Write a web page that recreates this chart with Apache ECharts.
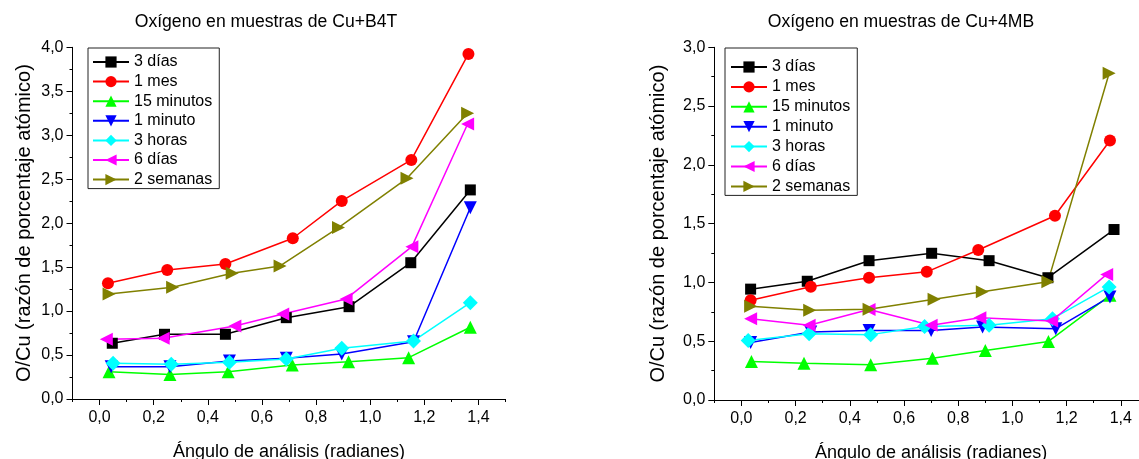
<!DOCTYPE html>
<html>
<head>
<meta charset="utf-8">
<script src="https://cdn.jsdelivr.net/npm/echarts@6/dist/echarts.min.js"></script>
<style>
html,body{margin:0;padding:0;background:#fff;}
#c{width:1139px;height:459px;}
</style>
</head>
<body>
<div id="c"></div>
<script>
// ---------- DATA ----------
var seriesNames = ['3 días', '1 mes', '15 minutos', '1 minuto', '3 horas', '6 días', '2 semanas'];
var titleLeft = 'Oxígeno en muestras de Cu+B4T';
var titleRight = 'Oxígeno en muestras de Cu+4MB';
var xName = 'Ángulo de análisis (radianes)';
var yName = 'O/Cu (razón de porcentaje atómico)';

var xTicks = [0, 0.2, 0.4, 0.6, 0.8, 1.0, 1.2, 1.4];
var xMinorTicks = [-0.1, 0.1, 0.3, 0.5, 0.7, 0.9, 1.1, 1.3, 1.5];
var yTicksLeft = [0, 0.5, 1.0, 1.5, 2.0, 2.5, 3.0, 3.5, 4.0];
var yTicksRight = [0, 0.5, 1.0, 1.5, 2.0, 2.5, 3.0];

// Cu+B4T (left)
var b4t_3dias_x = [0.047, 0.24, 0.465, 0.69, 0.922, 1.15, 1.37];
var b4t_3dias_y = [0.634, 0.736, 0.736, 0.925, 1.05, 1.55, 2.378];
var b4t_1mes_x = [0.031, 0.25, 0.465, 0.714, 0.895, 1.152, 1.363];
var b4t_1mes_y = [1.316, 1.468, 1.536, 1.828, 2.253, 2.719, 3.925];
var b4t_15min_x = [0.035, 0.26, 0.475, 0.712, 0.92, 1.142, 1.37];
var b4t_15min_y = [0.31, 0.28, 0.31, 0.387, 0.424, 0.47, 0.816];
var b4t_1min_x = [0.043, 0.26, 0.48, 0.69, 0.895, 1.16, 1.37];
var b4t_1min_y = [0.367, 0.367, 0.432, 0.463, 0.512, 0.652, 2.176];
var b4t_3horas_x = [0.05, 0.265, 0.48, 0.69, 0.895, 1.16, 1.37];
var b4t_3horas_y = [0.406, 0.395, 0.418, 0.455, 0.577, 0.66, 1.096];
var b4t_6dias_x = [0.025, 0.235, 0.5, 0.677, 0.911, 1.154, 1.36];
var b4t_6dias_y = [0.68, 0.69, 0.83, 0.967, 1.138, 1.733, 3.128];
var b4t_2sem_x = [0.035, 0.27, 0.49, 0.667, 0.883, 1.136, 1.36];
var b4t_2sem_y = [1.195, 1.27, 1.43, 1.513, 1.95, 2.51, 3.25];

// Cu+4MB (right)
var mb_3dias_x = [0.034, 0.243, 0.471, 0.702, 0.914, 1.131, 1.375];
var mb_3dias_y = [0.943, 1.01, 1.185, 1.248, 1.185, 1.04, 1.45];
var mb_1mes_x = [0.034, 0.256, 0.471, 0.684, 0.874, 1.157, 1.36];
var mb_1mes_y = [0.849, 0.963, 1.04, 1.09, 1.276, 1.567, 2.207];
var mb_15min_x = [0.037, 0.231, 0.477, 0.705, 0.9, 1.133, 1.36];
var mb_15min_y = [0.327, 0.313, 0.299, 0.356, 0.421, 0.498, 0.89];
var mb_1min_x = [0.034, 0.256, 0.471, 0.70, 0.89, 1.16, 1.36];
var mb_1min_y = [0.49, 0.578, 0.592, 0.592, 0.62, 0.607, 0.877];
var mb_3horas_x = [0.025, 0.25, 0.477, 0.676, 0.914, 1.148, 1.357];
var mb_3horas_y = [0.507, 0.564, 0.556, 0.626, 0.635, 0.692, 0.962];
var mb_6dias_x = [0.034, 0.25, 0.471, 0.70, 0.88, 1.145, 1.348];
var mb_6dias_y = [0.692, 0.635, 0.769, 0.635, 0.70, 0.672, 1.068];
var mb_2sem_x = [0.034, 0.252, 0.471, 0.711, 0.889, 1.131, 1.357];
var mb_2sem_y = [0.797, 0.763, 0.772, 0.857, 0.92, 1.005, 2.78];

// ---------- STYLE ----------
var FONT = '"Liberation Sans", Arial, sans-serif';
var colors = ['#000000', '#FF0000', '#00FF00', '#0000FF', '#00FFFF', '#FF00FF', '#808000'];
var symbols = [
  'rect',
  'circle',
  'path://M5,0L10,10L0,10Z',
  'path://M0,0L10,0L5,10Z',
  'path://M5,0L10,5L5,10L0,5Z',
  'path://M10,0L10,10L0,5Z',
  'path://M0,0L10,5L0,10Z'
];
var symbolSizes = [11, 12, 13, 13, 15, 13, 13];

function pairs(xs, ys) { return xs.map(function (x, i) { return [x, ys[i]]; }); }
var leftData = [
  pairs(b4t_3dias_x, b4t_3dias_y), pairs(b4t_1mes_x, b4t_1mes_y), pairs(b4t_15min_x, b4t_15min_y),
  pairs(b4t_1min_x, b4t_1min_y), pairs(b4t_3horas_x, b4t_3horas_y), pairs(b4t_6dias_x, b4t_6dias_y),
  pairs(b4t_2sem_x, b4t_2sem_y)
];
var rightData = [
  pairs(mb_3dias_x, mb_3dias_y), pairs(mb_1mes_x, mb_1mes_y), pairs(mb_15min_x, mb_15min_y),
  pairs(mb_1min_x, mb_1min_y), pairs(mb_3horas_x, mb_3horas_y), pairs(mb_6dias_x, mb_6dias_y),
  pairs(mb_2sem_x, mb_2sem_y)
];

function fmt(v) { return Number(v).toFixed(1).replace('.', ','); }

var axisLineStyle = { color: '#000', width: 1 };

function mainX(grid) {
  return {
    type: 'value', gridIndex: grid, min: -0.1, max: 1.5,
    name: xName, nameLocation: 'middle', nameGap: 44,
    nameTextStyle: { fontFamily: FONT, fontSize: 18, color: '#000' },
    axisLine: { show: true, onZero: false, lineStyle: axisLineStyle },
    axisTick: { show: true, inside: false, length: 6, customValues: xTicks, lineStyle: axisLineStyle },
    axisLabel: { show: true, margin: 11, customValues: xTicks, formatter: fmt,
      fontFamily: FONT, fontSize: 16, color: '#000' },
    splitLine: { show: false }
  };
}
function minorX(grid) {
  return {
    type: 'value', gridIndex: grid, min: -0.1, max: 1.5, position: 'bottom',
    axisLine: { show: false, onZero: false },
    axisTick: { show: true, inside: false, length: 3, customValues: xMinorTicks, lineStyle: axisLineStyle },
    axisLabel: { show: false },
    splitLine: { show: false }
  };
}
function mainY(grid, max, ticks, gap) {
  return {
    type: 'value', gridIndex: grid, min: 0, max: max, interval: 0.5,
    name: yName, nameLocation: 'middle', nameGap: gap, nameRotate: 90,
    nameTextStyle: { fontFamily: FONT, fontSize: 20, color: '#000' },
    axisLine: { show: true, onZero: false, lineStyle: axisLineStyle },
    axisTick: { show: true, inside: false, length: 6, lineStyle: axisLineStyle },
    minorTick: { show: true, splitNumber: 2, length: 3, lineStyle: axisLineStyle },
    axisLabel: { show: true, margin: 9, formatter: fmt, fontFamily: FONT, fontSize: 16, color: '#000' },
    splitLine: { show: false }
  };
}

var series = [];
function addSeries(dataArr, xi, yi) {
  dataArr.forEach(function (d, i) {
    series.push({
      type: 'line', name: seriesNames[i], xAxisIndex: xi, yAxisIndex: yi,
      data: d, symbol: symbols[i], symbolSize: symbolSizes[i],
      showAllSymbol: true, animation: false, clip: false,
      lineStyle: { color: colors[i], width: 1.5 },
      itemStyle: { color: colors[i], borderWidth: 0 },
      emphasis: { disabled: true }
    });
  });
}
addSeries(leftData, 0, 0);
addSeries(rightData, 2, 1);

function legend(left, top, gap, pad) {
  return {
    orient: 'vertical', left: left, top: top,
    data: seriesNames, itemWidth: 36, itemHeight: 14, itemGap: gap,
    padding: pad, borderColor: '#222', borderWidth: 1, borderRadius: 0,
    backgroundColor: '#fff', selectedMode: false,
    textStyle: { fontFamily: FONT, fontSize: 16, color: '#000' }
  };
}

var option = {
  animation: false,
  backgroundColor: '#fff',
  title: [
    { text: titleLeft, left: 266, top: 13, textAlign: 'center', padding: 0,
      textStyle: { fontFamily: FONT, fontSize: 17.6, fontWeight: 'normal', color: '#000' } },
    { text: titleRight, left: 901, top: 13, textAlign: 'center', padding: 0,
      textStyle: { fontFamily: FONT, fontSize: 17.6, fontWeight: 'normal', color: '#000' } }
  ],
  legend: [
    legend(88, 48, 3.6, [6, 7, 1, 4]),
    legend(725, 48, 3.9, [11, 7, 1, 5])
  ],
  grid: [
    { left: 72.5, top: 47.3, width: 433, height: 351.7, containLabel: false, outerBoundsMode: 'none' },
    { left: 714.3, top: 47.3, width: 433.6, height: 352.7, containLabel: false, outerBoundsMode: 'none' }
  ],
  xAxis: [mainX(0), minorX(0), mainX(1), minorX(1)],
  yAxis: [mainY(0, 4, yTicksLeft, 38), mainY(1, 3, yTicksRight, 46)],
  series: series
};

var chart = echarts.init(document.getElementById('c'), null, { renderer: 'canvas' });
chart.setOption(option);
</script>
</body>
</html>
